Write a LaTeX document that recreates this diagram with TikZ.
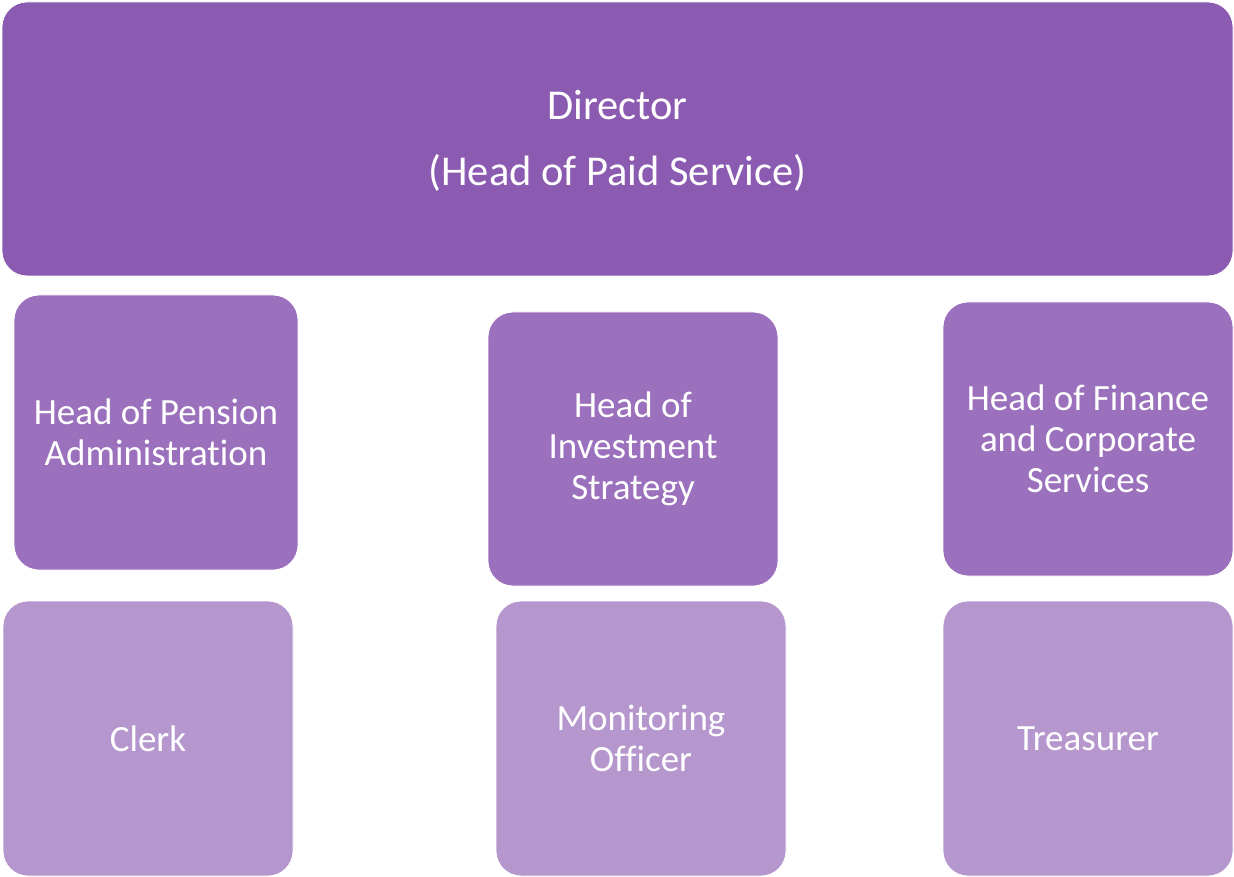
\documentclass[tikz,border=0pt]{standalone}
\usepackage{fontspec}
\setmainfont{Carlito}[Ligatures=NoCommon,Contextuals=NoAlternate]
\usepackage{tikz}
\usetikzlibrary{positioning}
\definecolor{topviolet}{RGB}{139,90,177}
\definecolor{midviolet}{RGB}{155,112,188}
\definecolor{lowviolet}{RGB}{181,151,206}
\tikzset{
  post/.style={draw=white,line width=0.8pt,rounded corners=25pt,text=white,align=center,
    inner sep=0pt,font=\fontsize{37}{41}\selectfont},
  headpost/.style={post,fill=midviolet,minimum width=290pt,minimum height=274pt},
  subpost/.style={post,fill=lowviolet,minimum width=290pt,minimum height=275pt}
}

\begin{document}
\begin{tikzpicture}[x=1pt,y=-1pt]
        \useasboundingbox (0,0) rectangle (1234,877);
        \node[post,fill=topviolet,minimum width=1231pt,minimum height=274pt,
          font=\fontsize{42.5}{47}\selectfont] (director) at (617.5,139)
          {\rule{0pt}{33pt}Director\\[19pt](Head of Paid Service)};
        % second row
        \node[headpost,minimum width=284pt,minimum height=275pt] (pension) at (156,432.5)
          {Head of Pension\\Administrat\kern0pt ion};
        \node[headpost] (invest) at (633,449) {Head of\\Investment\\Strategy};
        \node[headpost] (finance) at (1088,439) {Head of Finance\\and Corporate\\Services};
        % third row
        \node[subpost] (clerk) at (148,738.5) {Clerk};
        \node[subpost] (monitor) at (641,738.5) {Monitoring\\Officer};
        \node[subpost] (treasurer) at (1088,738.5) {Treasurer};
\end{tikzpicture}
\end{document}
